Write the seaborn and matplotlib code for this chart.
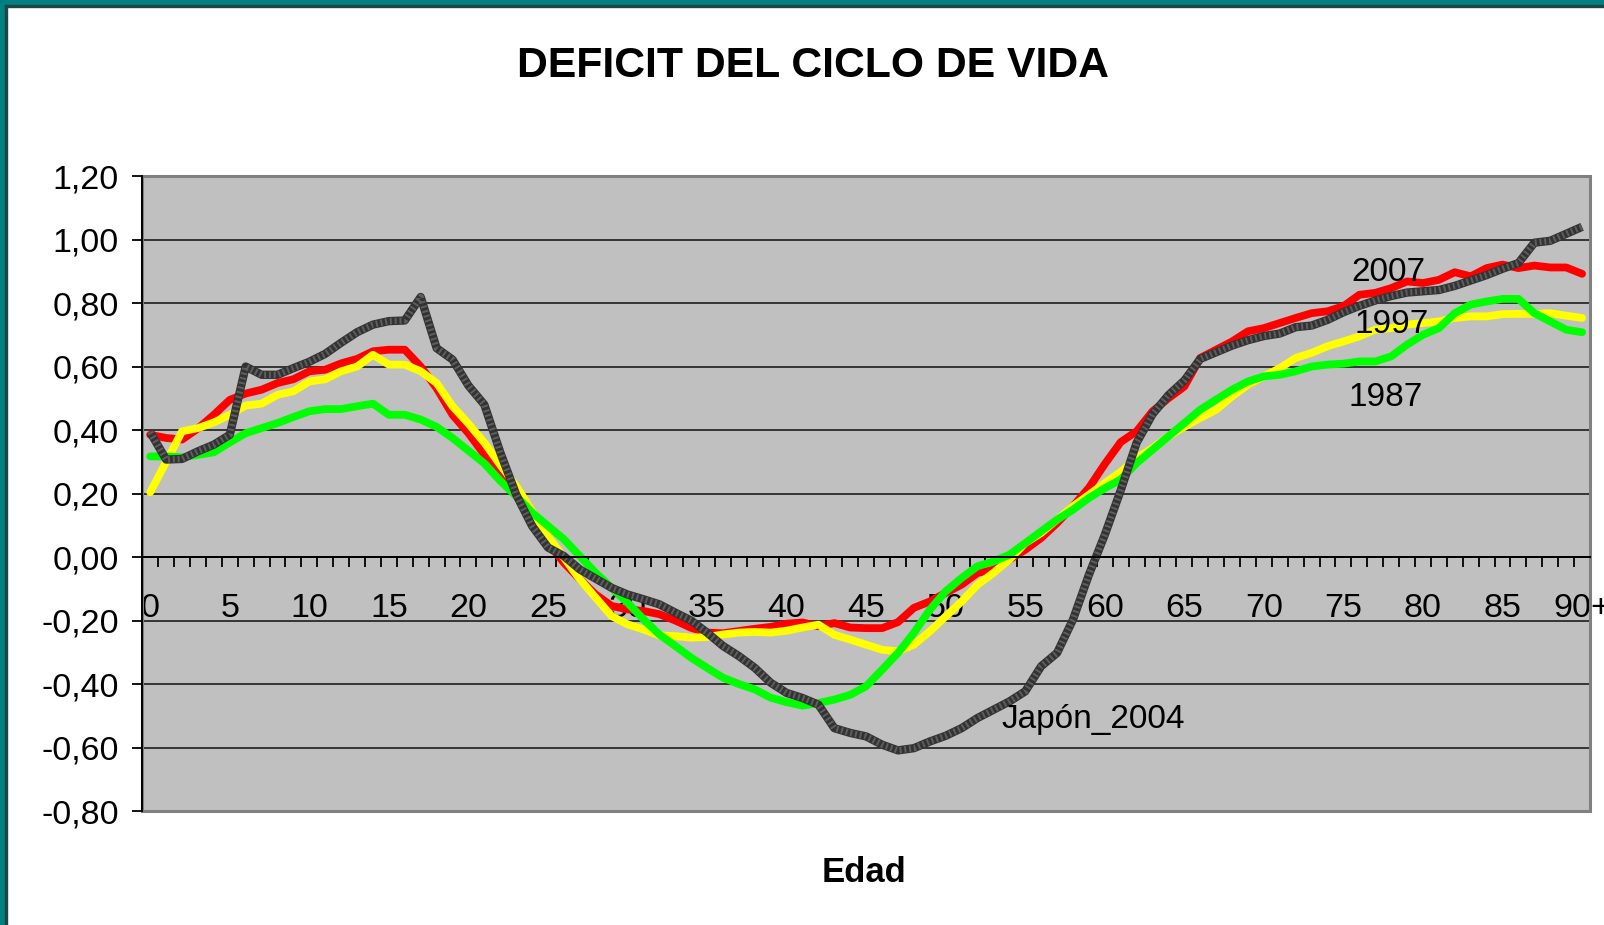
"""
Déficit del ciclo de vida por edad: 2007, 1997, 1987 y Japón 2004.

    python plot.py   ->  out.png
"""

import matplotlib
matplotlib.use("Agg")          # sin ventana

import matplotlib.pyplot as plt
from matplotlib.patches import Rectangle
import numpy as np
import pandas as pd
import seaborn as sns

# --- datos ------------------------------------------------------------------
EDADES = list(range(91))
ROTULOS_X = [str(e) for e in range(0, 90, 5)] + ["90+"]
TICKS_Y = [-0.8, -0.6, -0.4, -0.2, 0.0, 0.2, 0.4, 0.6, 0.8, 1.0, 1.2]

DEFICIT_2007 = [
    0.385, 0.375, 0.370, 0.405, 0.448, 0.495, 0.515, 0.527, 0.548, 0.560,
    0.585, 0.590, 0.610, 0.624, 0.648, 0.653, 0.653, 0.600, 0.532, 0.448,
    0.390, 0.323, 0.260, 0.197, 0.119, 0.045, -0.018, -0.070, -0.118, -0.154,
    -0.165, -0.170, -0.180, -0.200, -0.223, -0.238, -0.240, -0.233, -0.226, -0.220,
    -0.210, -0.206, -0.218, -0.208, -0.222, -0.224, -0.224, -0.205, -0.160, -0.140,
    -0.113, -0.087, -0.050, -0.040, -0.008, 0.023, 0.060, 0.107, 0.160, 0.218,
    0.293, 0.362, 0.396, 0.459, 0.500, 0.537, 0.627, 0.653, 0.679, 0.711,
    0.721, 0.737, 0.753, 0.768, 0.774, 0.790, 0.826, 0.832, 0.847, 0.868,
    0.863, 0.873, 0.897, 0.884, 0.910, 0.921, 0.910, 0.918, 0.912, 0.912,
    0.892,
]

DEFICIT_1997 = [
    0.204, 0.300, 0.396, 0.406, 0.424, 0.448, 0.477, 0.483, 0.511, 0.522,
    0.553, 0.560, 0.585, 0.600, 0.637, 0.606, 0.606, 0.585, 0.548, 0.475,
    0.420, 0.360, 0.290, 0.224, 0.145, 0.066, -0.002, -0.070, -0.128, -0.186,
    -0.212, -0.228, -0.247, -0.249, -0.254, -0.252, -0.244, -0.238, -0.236, -0.238,
    -0.232, -0.222, -0.213, -0.245, -0.260, -0.276, -0.292, -0.297, -0.276, -0.234,
    -0.187, -0.140, -0.087, -0.050, -0.008, 0.044, 0.076, 0.118, 0.160, 0.196,
    0.233, 0.268, 0.312, 0.343, 0.380, 0.410, 0.438, 0.464, 0.506, 0.543,
    0.569, 0.595, 0.627, 0.643, 0.664, 0.679, 0.695, 0.716, 0.721, 0.732,
    0.737, 0.742, 0.753, 0.758, 0.758, 0.765, 0.766, 0.766, 0.768, 0.760,
    0.753,
]

DEFICIT_1987 = [
    0.317, 0.317, 0.314, 0.322, 0.330, 0.361, 0.390, 0.406, 0.422, 0.441,
    0.459, 0.466, 0.466, 0.475, 0.483, 0.448, 0.448, 0.433, 0.410, 0.375,
    0.335, 0.295, 0.240, 0.192, 0.140, 0.098, 0.056, 0.003, -0.050, -0.097,
    -0.144, -0.196, -0.244, -0.280, -0.317, -0.349, -0.380, -0.400, -0.417, -0.443,
    -0.457, -0.468, -0.460, -0.449, -0.434, -0.407, -0.355, -0.302, -0.239, -0.166,
    -0.108, -0.066, -0.029, -0.014, 0.007, 0.044, 0.081, 0.118, 0.149, 0.186,
    0.217, 0.244, 0.296, 0.338, 0.380, 0.422, 0.464, 0.496, 0.527, 0.553,
    0.569, 0.574, 0.585, 0.600, 0.606, 0.609, 0.616, 0.616, 0.632, 0.669,
    0.700, 0.721, 0.768, 0.795, 0.805, 0.813, 0.813, 0.768, 0.742, 0.716,
    0.708,
]

DEFICIT_JAPON_2004 = [
    0.393, 0.307, 0.309, 0.333, 0.354, 0.385, 0.600, 0.574, 0.574, 0.595,
    0.615, 0.640, 0.675, 0.708, 0.732, 0.743, 0.745, 0.819, 0.658, 0.622,
    0.540, 0.480, 0.330, 0.197, 0.098, 0.030, 0.003, -0.039, -0.068, -0.097,
    -0.118, -0.133, -0.149, -0.175, -0.200, -0.238, -0.280, -0.312, -0.349, -0.396,
    -0.428, -0.444, -0.465, -0.539, -0.554, -0.565, -0.591, -0.609, -0.602, -0.581,
    -0.563, -0.539, -0.507, -0.481, -0.455, -0.423, -0.344, -0.302, -0.197, -0.056,
    0.070, 0.210, 0.360, 0.450, 0.510, 0.556, 0.624, 0.645, 0.666, 0.683,
    0.696, 0.704, 0.724, 0.729, 0.747, 0.771, 0.791, 0.808, 0.822, 0.833,
    0.837, 0.841, 0.854, 0.871, 0.888, 0.908, 0.926, 0.990, 0.996, 1.018,
    1.040,
]

SERIES = ["2007", "1997", "1987"]
COLORES = {"2007": "#FF0000", "1997": "#FFFF00", "1987": "#00FF00"}


def gerar_grafico():
    df = pd.concat([
        pd.DataFrame({"edad": EDADES, "deficit": DEFICIT_2007, "serie": "2007"}),
        pd.DataFrame({"edad": EDADES, "deficit": DEFICIT_1997, "serie": "1997"}),
        pd.DataFrame({"edad": EDADES, "deficit": DEFICIT_1987, "serie": "1987"}),
    ], ignore_index=True)
    japon = pd.DataFrame({"edad": EDADES, "deficit": DEFICIT_JAPON_2004})

    sns.set_style("white")
    plt.rcParams["font.family"] = ["Liberation Sans", "DejaVu Sans"]
    plt.rcParams["text.color"] = "black"
    plt.rcParams["xtick.color"] = "black"
    plt.rcParams["ytick.color"] = "black"

    fig = plt.figure(figsize=(16.04, 9.25), dpi=100)
    ax = fig.add_axes([0.0887, 0.1232, 0.9026, 0.6865])
    ax.set_facecolor("#C0C0C0")

    sns.lineplot(data=df, x="edad", y="deficit", hue="serie",
                 hue_order=SERIES, palette=COLORES, linewidth=5.6,
                 legend=False, ax=ax, solid_capstyle="round")
    # Japón: línea gris oscura con textura rayada
    sns.lineplot(data=japon, x="edad", y="deficit", color="#333333",
                 linewidth=6.0, ax=ax, solid_capstyle="butt")
    sns.lineplot(data=japon, x="edad", y="deficit", color="#5e5e5e",
                 linewidth=4.6, ax=ax, linestyle=(0, (0.3, 0.45)),
                 dash_capstyle="butt")

    ax.set_xlim(-0.5, 90.5)
    ax.set_ylim(-0.8, 1.2)
    ax.set_xlabel("")
    ax.set_ylabel("")

    # ejes estilo Excel
    for lado in ("top", "right"):
        ax.spines[lado].set_visible(False)
    ax.spines["left"].set_color("black")
    ax.spines["left"].set_linewidth(1.4)
    ax.spines["bottom"].set_position(("data", 0))
    ax.spines["bottom"].set_color("black")
    ax.spines["bottom"].set_linewidth(1.4)
    ax.add_patch(Rectangle((0, 0), 1, 1, transform=ax.transAxes, fill=False,
                           edgecolor="#808080", linewidth=2.2, zorder=1,
                           clip_on=False))

    ax.set_axisbelow(True)
    ax.yaxis.grid(True, color="#2a2a2a", linewidth=1.3)
    ax.xaxis.grid(False)

    ax.set_yticks(TICKS_Y)
    ax.set_yticklabels([f"{v:.2f}".replace(".", ",") for v in TICKS_Y])
    ax.tick_params(axis="y", direction="out", length=7, width=1.3,
                   color="black", labelcolor="black", labelsize=24.5,
                   pad=10, left=True)

    ax.set_xticks(EDADES[::5])
    ax.set_xticklabels(ROTULOS_X)
    ax.set_xticks(np.arange(-0.5, 91, 1), minor=True)
    ax.tick_params(axis="x", which="major", length=0, labelsize=24.5,
                   labelcolor="black", pad=26)
    ax.tick_params(axis="x", which="minor", direction="out", length=7,
                   width=1.3, color="black", bottom=True)

    # rótulos de las series
    ax.text(75.5, 0.869, "2007", fontsize=24, color="black",
            ha="left", va="baseline")
    ax.text(75.7, 0.706, "1997", fontsize=24, color="black",
            ha="left", va="baseline")
    ax.text(75.3, 0.477, "1987", fontsize=24, color="black",
            ha="left", va="baseline")
    ax.text(53.5, -0.538, "Japón_2004", fontsize=24, color="black",
            ha="left", va="baseline")

    fig.text(795 / 1568, 1 - 77 / 925, "DEFICIT DEL CICLO DE VIDA",
             fontsize=30.8, fontweight="bold", color="black",
             ha="center", va="baseline")
    fig.text(864 / 1604, 1 - 882 / 925, "Edad", fontsize=25,
             fontweight="bold", color="black", ha="center", va="baseline")

    # marco verde azulado (arriba e izquierda)
    fig.patches.append(Rectangle((0, 1 - 5 / 925), 1, 5 / 925,
                                 transform=fig.transFigure, color="#008080"))
    fig.patches.append(Rectangle((0, 0), 5 / 1604, 1,
                                 transform=fig.transFigure, color="#008080"))
    fig.patches.append(Rectangle((5 / 1604, 0), 2 / 1604, 1 - 5 / 925,
                                 transform=fig.transFigure, color="#1e4646"))
    fig.patches.append(Rectangle((5 / 1604, 1 - 7 / 925), 1, 2 / 925,
                                 transform=fig.transFigure, color="#1e4646"))

    fig.savefig("out.png", dpi=100)
    plt.close(fig)


if __name__ == "__main__":
    gerar_grafico()
